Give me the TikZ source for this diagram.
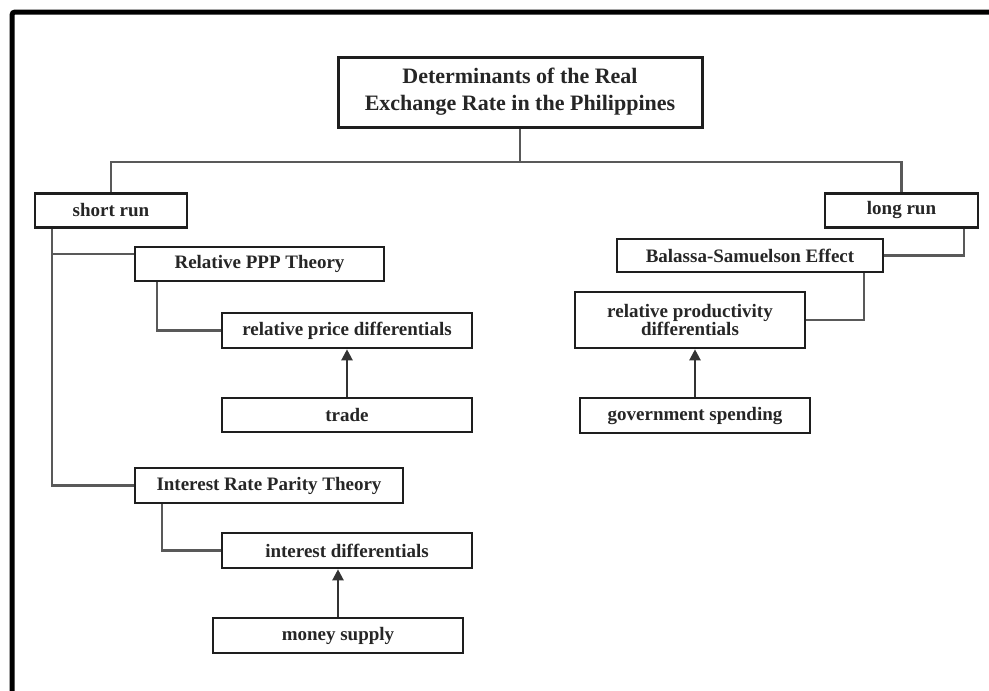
\documentclass[tikz,border=0pt]{standalone}
\usepackage{fontspec}
\setmainfont{Liberation Serif}
\usetikzlibrary{arrows.meta}
\definecolor{boxline}{HTML}{1E1E1E}
\definecolor{linkgray}{HTML}{595959}

\begin{document}
\begin{tikzpicture}[
  x=1pt, y=-1pt,
  font=\fontsize{19}{18}\selectfont\bfseries,
  box/.style  = {draw=boxline, line width=2.6pt, fill=white, inner sep=0pt,
                 align=center, text=black!85},
  ttl/.style  = {box, line width=3pt, font=\fontsize{22}{27}\selectfont\bfseries,
                 minimum width=364pt, minimum height=70pt},
  ln/.style   = {draw=linkgray, line width=2.2pt},
  arr/.style  = {ln, -{Triangle[length=11pt, width=11pt]}, draw=black!80},
  frm/.style  = {draw=black, line width=5pt, rounded corners=3pt},
]
\useasboundingbox (0,0) rectangle (989,691);

% --- the page frame ---------------------------------------------------------------
\draw[frm] (12,700) -- (12,12) -- (1000,12);

% --- the title and the two horizons -----------------------------------------------
\node[ttl] (title) at (520,92) {Determinants of the Real\\Exchange Rate in the Philippines};
\coordinate (hub) at (520,162);
\node[box, minimum width=152pt, minimum height=34pt] (srun) at (111,210.5) {short run};
\node[box, minimum width=153pt, minimum height=34pt] (lrun) at (901.5,210.5) {long run};

\draw[ln] (title.south) -- (hub);
\draw[ln] (srun.north) |- (hub) -| (lrun.north);

% --- short run: the two theories --------------------------------------------------
\node[box, minimum width=249pt, minimum height=34pt] (ppp) at (259.5,264) {Relative PPP Theory};
\node[box, minimum width=250pt, minimum height=35pt] (rpdiff) at (347,330.5) {relative price differentials};
\node[box, minimum width=250pt, minimum height=34pt] (trade) at (347,415) {trade};

\node[box, minimum width=268pt, minimum height=35pt] (irp) at (269,485.5) {Interest Rate Parity Theory};
\node[box, minimum width=250pt, minimum height=35pt] (intd) at (347,550.5) {interest differentials};
\node[box, minimum width=250pt, minimum height=35pt] (money) at (338,635.5) {money supply};

\draw[ln] ([xshift=18pt]srun.south west) |- ([yshift=10pt]ppp.west);
\draw[ln] ([xshift=18pt]srun.south west) |- (irp.west);
\draw[ln] ([xshift=23pt]ppp.south west) |- (rpdiff.west);
\draw[ln] ([xshift=28pt]irp.south west) |- (intd.west);
\draw[arr] (trade.north) -- (rpdiff.south);
\draw[arr] (money.north) -- (money.north |- intd.south);

% --- long run: Balassa-Samuelson --------------------------------------------------
\node[box, minimum width=266pt, minimum height=33pt] (bs) at (750,255.5) {Balassa-Samuelson Effect};
\node[box, minimum width=230pt, minimum height=56pt] (rpd) at (690,320) {relative productivity\\differentials};
\node[box, minimum width=230pt, minimum height=35pt] (gov) at (695,415.5) {government spending};

\draw[ln] ([xshift=-15pt]lrun.south east) |- (bs.east);
\draw[ln] ([xshift=-20pt]bs.south east) |- (rpd.east);
\draw[arr] (gov.north) -- (gov.north |- rpd.south);

\end{tikzpicture}
\end{document}
